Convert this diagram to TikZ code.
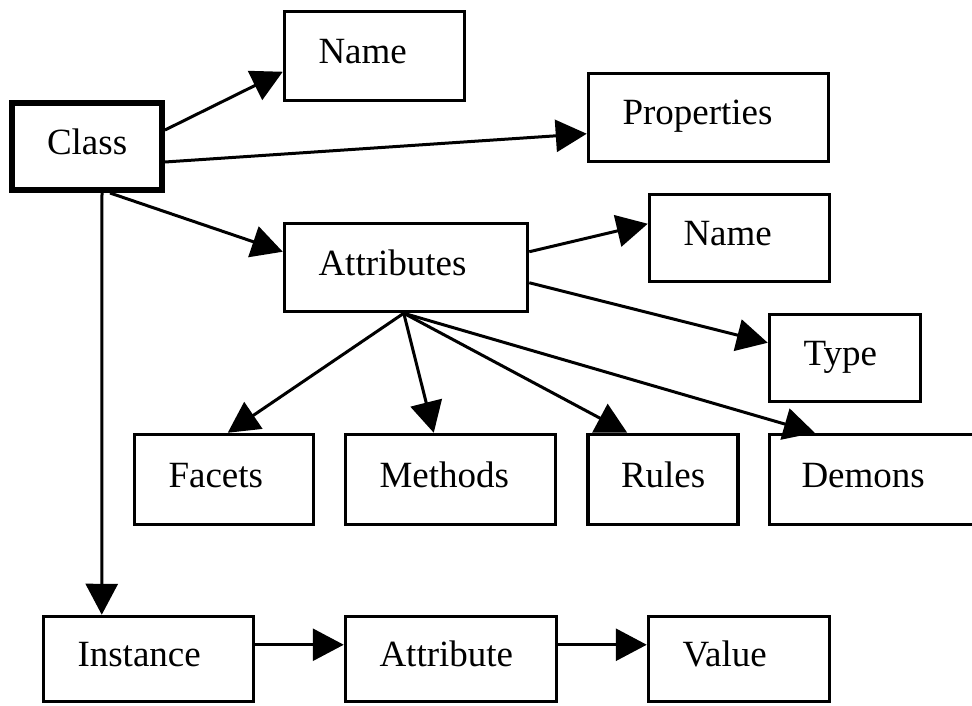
\documentclass[tikz,border=0pt]{standalone}
\usepackage{fontspec}
\setmainfont{Liberation Serif}
\usetikzlibrary{arrows.meta,calc}
\begin{document}
\begin{tikzpicture}[x=1pt,y=-1pt,
  box/.style={draw, line width=3.5pt, inner xsep=34pt, inner ysep=0pt,
    text height=25pt, text depth=10pt, align=left,
    font=\fontsize{37}{40}\selectfont, anchor=center},
  conn/.style={line width=3pt, -{Triangle[length=31pt,width=32pt]}}]
\path[use as bounding box, clip] (0,0) rectangle (972,706);

% nodes
\node[box, line width=6pt, inner xsep=35pt, text width=80pt, minimum height=87pt] (class) at (87,146.5) {Class};
\node[box, text width=112pt, minimum height=89pt] (name1) at (374.5,56) {Name};
\node[box, text width=172pt, minimum height=88pt] (props) at (708.5,117.5) {Properties};
\node[box, text width=175pt, minimum height=88pt] (attrs) at (406,267.5) {Attributes};
\node[box, text width=112pt, minimum height=87pt] (name2) at (739.5,238) {Name};
\node[box, text width=83pt, minimum height=87pt] (type) at (845,358) {Type};
\node[box, text width=111pt, minimum height=90pt] (facets) at (224,479.5) {Facets};
\node[box, text width=142pt, minimum height=90pt] (methods) at (450.5,479.5) {Methods};
\node[box, inner xsep=33pt, text width=84pt, minimum height=90pt] (rules) at (663,479.5) {Rules};
\node[box, inner xsep=32pt, text width=155pt, minimum height=90pt] (demons) at (879,479.5) {Demons};
\node[box, text width=142pt, minimum height=85pt] (instance) at (148.5,659) {Instance};
\node[box, text width=143pt, minimum height=85pt] (attribute) at (451,659) {Attribute};
\node[box, text width=113pt, minimum height=85pt] (value) at (739,659) {Value};

\coordinate (fan) at ($(attrs.south west)+(121,0)$);

% connectors
\draw[conn] ($(class.north east)+(0,30)$) -- ($(name1.north west)+(0,62)$);
\draw[conn] ($(class.north east)+(0,62)$) -- ($(props.north west)+(0,62)$);
\draw[conn] ($(class.south west)+(101,0)$) -- ($(attrs.north west)+(0,30)$);
\draw[conn] ($(class.south west)+(93,0)$) -- ($(instance.north west)+(60,0)$);
\draw[conn] ($(attrs.north east)+(0,30)$) -- ($(name2.north west)+(0,31)$);
\draw[conn] ($(attrs.north east)+(0,61)$) -- ($(type.north west)+(0,30)$);
\draw[conn] (fan) -- ($(facets.north west)+(95,0)$);
\draw[conn] (fan) -- ($(methods.north west)+(90,0)$);
\draw[conn] (fan) -- ($(rules.north west)+(41,0)$);
\draw[conn] (fan) -- ($(demons.north west)+(47,0)$);
\draw[conn] ($(instance.north east)+(0,30)$) -- ($(attribute.north west)+(0,30)$);
\draw[conn] ($(attribute.north east)+(0,30)$) -- ($(value.north west)+(0,30)$);
\end{tikzpicture}
\end{document}
